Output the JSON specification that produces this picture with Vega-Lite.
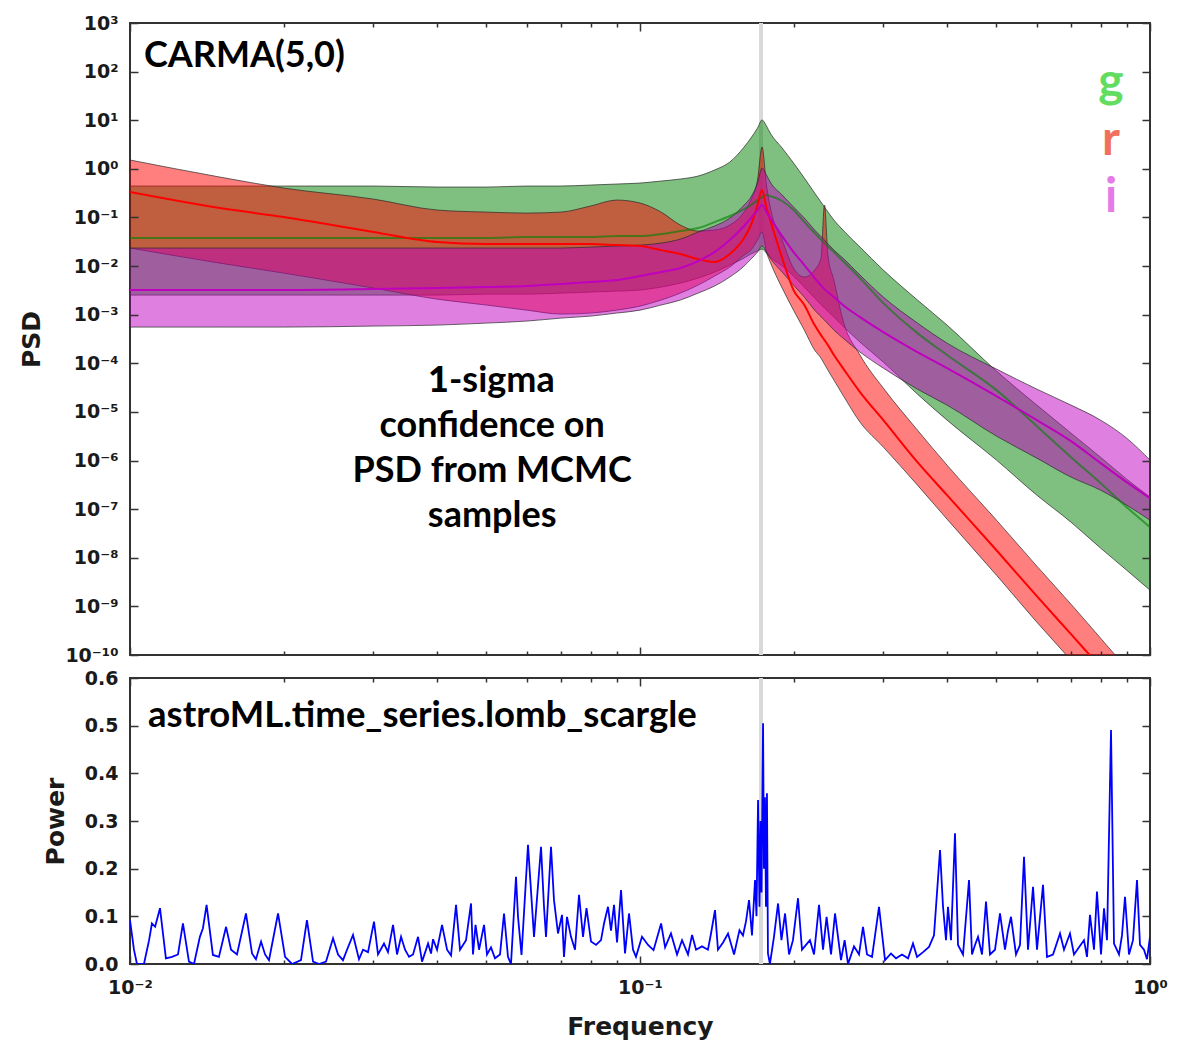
{
 "$schema": "https://vega.github.io/schema/vega-lite/v6.json",
 "background": "white",
 "padding": {"left": 18, "top": 13, "right": 8, "bottom": 0},
 "bounds": "flush",
 "spacing": 23,
 "datasets": {
  "vline": [{"f": 0.1727}],
  "notesTop": [
   {"id": "carma", "f": 0.01065, "v": 124, "label": "CARMA(5,0)"},
   {"id": "one", "f": 0.0422, "v": 2.55e-5, "label": "1"},
   {"id": "sigma", "f": 0.0422, "v": 2.55e-5, "label": "-sigma"},
   {"id": "conf", "f": 0.0513, "v": 3.03e-6, "label": "confidence on\nPSD from MCMC\nsamples"},
   {"id": "band", "f": 0.8385, "v": 30.0, "label": "g"},
   {"id": "band", "f": 0.8385, "v": 1.92, "label": "r"},
   {"id": "band", "f": 0.8385, "v": 0.129, "label": "i"}
  ],
  "notesBottom": [{"f": 0.01085, "p": 0.497, "label": "astroML.time_series.lomb_scargle"}],
  "psd": [
   {"band":"g","f":0.01,"lo":0.00253,"med":0.0377,"hi":0.443},
   {"band":"g","f":0.015,"lo":0.00253,"med":0.0377,"hi":0.443},
   {"band":"g","f":0.02,"lo":0.00253,"med":0.0377,"hi":0.443},
   {"band":"g","f":0.03,"lo":0.00253,"med":0.0377,"hi":0.443},
   {"band":"g","f":0.04,"lo":0.00253,"med":0.0377,"hi":0.422},
   {"band":"g","f":0.05,"lo":0.00265,"med":0.0377,"hi":0.422},
   {"band":"g","f":0.06,"lo":0.00265,"med":0.0395,"hi":0.443},
   {"band":"g","f":0.07,"lo":0.00278,"med":0.0395,"hi":0.443},
   {"band":"g","f":0.08,"lo":0.00292,"med":0.0395,"hi":0.464},
   {"band":"g","f":0.09,"lo":0.00306,"med":0.0414,"hi":0.487},
   {"band":"g","f":0.1,"lo":0.00321,"med":0.0414,"hi":0.51},
   {"band":"g","f":0.11,"lo":0.0037,"med":0.0456,"hi":0.561},
   {"band":"g","f":0.12,"lo":0.00447,"med":0.0525,"hi":0.617},
   {"band":"g","f":0.13,"lo":0.00566,"med":0.0605,"hi":0.711},
   {"band":"g","f":0.14,"lo":0.00752,"med":0.0804,"hi":0.945},
   {"band":"g","f":0.15,"lo":0.0105,"med":0.107,"hi":1.38},
   {"band":"g","f":0.16,"lo":0.0146,"med":0.149,"hi":2.81},
   {"band":"g","f":0.165,"lo":0.0177,"med":0.18,"hi":4.3},
   {"band":"g","f":0.17,"lo":0.0204,"med":0.228,"hi":6.91},
   {"band":"g","f":0.1735,"lo":0.0224,"med":0.263,"hi":10.1},
   {"band":"g","f":0.177,"lo":0.0185,"med":0.289,"hi":7.6},
   {"band":"g","f":0.18,"lo":0.0153,"med":0.276,"hi":5.46},
   {"band":"g","f":0.19,"lo":0.01,"med":0.218,"hi":2.68},
   {"band":"g","f":0.2,"lo":0.00623,"med":0.142,"hi":1.32},
   {"band":"g","f":0.21,"lo":0.0037,"med":0.0804,"hi":0.647},
   {"band":"g","f":0.22,"lo":0.0022,"med":0.0478,"hi":0.318},
   {"band":"g","f":0.23,"lo":0.00137,"med":0.0297,"hi":0.164},
   {"band":"g","f":0.24,"lo":0.000893,"med":0.0194,"hi":0.0884},
   {"band":"g","f":0.25,"lo":0.000583,"med":0.0127,"hi":0.0551},
   {"band":"g","f":0.27,"lo":0.000273,"med":0.00566,"hi":0.0246},
   {"band":"g","f":0.3,"lo":0.000106,"med":0.00173,"hi":0.00827},
   {"band":"g","f":0.35,"lo":2.32e-5,"med":0.000418,"hi":0.002},
   {"band":"g","f":0.4,"lo":6.78e-6,"med":0.000148,"hi":0.000611},
   {"band":"g","f":0.5,"lo":1.02e-6,"med":2.81e-5,"hi":6.91e-5},
   {"band":"g","f":0.6,"lo":1.94e-7,"med":5.1e-6,"hi":1.38e-5},
   {"band":"g","f":0.7,"lo":5.4e-8,"med":1.17e-6,"hi":3.66e-6},
   {"band":"g","f":0.8,"lo":1.58e-8,"med":3.43e-7,"hi":1.17e-6},
   {"band":"g","f":0.9,"lo":5.56e-9,"med":1.1e-7,"hi":4.14e-7},
   {"band":"g","f":1.0,"lo":2.16e-9,"med":4.26e-8,"hi":1.77e-7},
   {"band":"r","f":0.01,"lo":0.0235,"med":0.333,"hi":1.52},
   {"band":"r","f":0.015,"lo":0.0115,"med":0.156,"hi":0.678},
   {"band":"r","f":0.02,"lo":0.00718,"med":0.102,"hi":0.403},
   {"band":"r","f":0.03,"lo":0.00353,"med":0.0501,"hi":0.239},
   {"band":"r","f":0.04,"lo":0.00209,"med":0.0312,"hi":0.142},
   {"band":"r","f":0.05,"lo":0.00158,"med":0.0284,"hi":0.129},
   {"band":"r","f":0.06,"lo":0.00124,"med":0.0284,"hi":0.123},
   {"band":"r","f":0.07,"lo":0.00103,"med":0.0284,"hi":0.129},
   {"band":"r","f":0.08,"lo":0.00108,"med":0.0284,"hi":0.172},
   {"band":"r","f":0.09,"lo":0.00124,"med":0.027,"hi":0.228},
   {"band":"r","f":0.1,"lo":0.0015,"med":0.0258,"hi":0.198},
   {"band":"r","f":0.11,"lo":0.002,"med":0.0213,"hi":0.129},
   {"band":"r","f":0.12,"lo":0.00278,"med":0.0177,"hi":0.0698},
   {"band":"r","f":0.13,"lo":0.00406,"med":0.0139,"hi":0.0525},
   {"band":"r","f":0.14,"lo":0.00623,"med":0.0121,"hi":0.0551},
   {"band":"r","f":0.15,"lo":0.00954,"med":0.0177,"hi":0.0698},
   {"band":"r","f":0.16,"lo":0.0168,"med":0.0377,"hi":0.129},
   {"band":"r","f":0.165,"lo":0.0213,"med":0.0698,"hi":0.228},
   {"band":"r","f":0.17,"lo":0.0343,"med":0.18,"hi":0.588},
   {"band":"r","f":0.1735,"lo":0.0501,"med":0.366,"hi":2.81},
   {"band":"r","f":0.177,"lo":0.0194,"med":0.156,"hi":0.464},
   {"band":"r","f":0.18,"lo":0.0121,"med":0.0884,"hi":0.164},
   {"band":"r","f":0.19,"lo":0.00353,"med":0.0146,"hi":0.0343},
   {"band":"r","f":0.2,"lo":0.00124,"med":0.00321,"hi":0.0091},
   {"band":"r","f":0.21,"lo":0.000482,"med":0.00158,"hi":0.00594},
   {"band":"r","f":0.22,"lo":0.000187,"med":0.000611,"hi":0.00827},
   {"band":"r","f":0.2264,"lo":0.000128,"med":0.00038,"hi":0.0146},
   {"band":"r","f":0.23,"lo":9.63e-5,"med":0.0003,"hi":0.18},
   {"band":"r","f":0.2336,"lo":7.25e-5,"med":0.000237,"hi":0.0168},
   {"band":"r","f":0.24,"lo":4.51e-5,"med":0.000148,"hi":0.00515},
   {"band":"r","f":0.25,"lo":2.22e-5,"med":7.96e-5,"hi":0.000774},
   {"band":"r","f":0.27,"lo":6.17e-6,"med":2.56e-5,"hi":0.000148},
   {"band":"r","f":0.3,"lo":1.89e-6,"med":6.78e-6,"hi":3.09e-5},
   {"band":"r","f":0.35,"lo":3.12e-7,"med":9.27e-7,"hi":4.22e-6},
   {"band":"r","f":0.4,"lo":6.23e-8,"med":1.94e-7,"hi":8.04e-7},
   {"band":"r","f":0.5,"lo":4.39e-9,"med":1.43e-8,"hi":5.94e-8},
   {"band":"r","f":0.6,"lo":4.73e-10,"med":1.62e-9,"hi":6.72e-9},
   {"band":"r","f":0.7,"lo":7.82e-11,"med":2.68e-10,"hi":1.11e-9},
   {"band":"r","f":0.8,"lo":1.56e-11,"med":5.61e-11,"hi":2.22e-10},
   {"band":"r","f":0.9,"lo":3.77e-12,"med":1.42e-11,"hi":5.35e-11},
   {"band":"r","f":1.0,"lo":1.1e-12,"med":4.14e-12,"hi":1.56e-11},
   {"band":"i","f":0.01,"lo":0.000556,"med":0.00321,"hi":0.0235},
   {"band":"i","f":0.015,"lo":0.000556,"med":0.00321,"hi":0.0235},
   {"band":"i","f":0.02,"lo":0.000556,"med":0.00321,"hi":0.0235},
   {"band":"i","f":0.03,"lo":0.000583,"med":0.00336,"hi":0.0235},
   {"band":"i","f":0.04,"lo":0.000611,"med":0.00353,"hi":0.0235},
   {"band":"i","f":0.05,"lo":0.000672,"med":0.0037,"hi":0.0235},
   {"band":"i","f":0.06,"lo":0.000739,"med":0.00388,"hi":0.0235},
   {"band":"i","f":0.07,"lo":0.000851,"med":0.00426,"hi":0.0235},
   {"band":"i","f":0.08,"lo":0.000936,"med":0.00469,"hi":0.0246},
   {"band":"i","f":0.09,"lo":0.00108,"med":0.00515,"hi":0.0258},
   {"band":"i","f":0.1,"lo":0.00124,"med":0.00623,"hi":0.027},
   {"band":"i","f":0.11,"lo":0.00158,"med":0.00752,"hi":0.0297},
   {"band":"i","f":0.12,"lo":0.002,"med":0.0091,"hi":0.0359},
   {"band":"i","f":0.13,"lo":0.00278,"med":0.0127,"hi":0.0501},
   {"band":"i","f":0.14,"lo":0.00388,"med":0.0194,"hi":0.0666},
   {"band":"i","f":0.15,"lo":0.00594,"med":0.0343,"hi":0.0972},
   {"band":"i","f":0.16,"lo":0.01,"med":0.0666,"hi":0.18},
   {"band":"i","f":0.165,"lo":0.0139,"med":0.0972,"hi":0.263},
   {"band":"i","f":0.17,"lo":0.0194,"med":0.142,"hi":0.51},
   {"band":"i","f":0.1735,"lo":0.0258,"med":0.18,"hi":1.04},
   {"band":"i","f":0.177,"lo":0.0194,"med":0.129,"hi":0.746},
   {"band":"i","f":0.18,"lo":0.0146,"med":0.0972,"hi":0.535},
   {"band":"i","f":0.19,"lo":0.00752,"med":0.0414,"hi":0.289},
   {"band":"i","f":0.2,"lo":0.00406,"med":0.0194,"hi":0.164},
   {"band":"i","f":0.21,"lo":0.0023,"med":0.0105,"hi":0.0972},
   {"band":"i","f":0.22,"lo":0.00124,"med":0.00566,"hi":0.0551},
   {"band":"i","f":0.23,"lo":0.000774,"med":0.00336,"hi":0.0343},
   {"band":"i","f":0.24,"lo":0.000482,"med":0.0023,"hi":0.0213},
   {"band":"i","f":0.25,"lo":0.00033,"med":0.00158,"hi":0.0146},
   {"band":"i","f":0.27,"lo":0.00017,"med":0.000893,"hi":0.00653},
   {"band":"i","f":0.3,"lo":7.96e-5,"med":0.000439,"hi":0.0023},
   {"band":"i","f":0.35,"lo":2.94e-5,"med":0.00017,"hi":0.000672},
   {"band":"i","f":0.4,"lo":1.38e-5,"med":7.96e-5,"hi":0.00026},
   {"band":"i","f":0.5,"lo":3.18e-6,"med":2.11e-5,"hi":7.6e-5},
   {"band":"i","f":0.6,"lo":1.12e-6,"med":6.78e-6,"hi":2.94e-5},
   {"band":"i","f":0.7,"lo":4.56e-7,"med":2.51e-6,"hi":1.38e-5},
   {"band":"i","f":0.8,"lo":2.46e-7,"med":8.84e-7,"hi":6.78e-6},
   {"band":"i","f":0.9,"lo":1.21e-7,"med":3.59e-7,"hi":2.89e-6},
   {"band":"i","f":1.0,"lo":5.94e-8,"med":1.68e-7,"hi":1.02e-6}
  ],
  "ls": [
   {"f":0.01,"p":0.092},{"f":0.01018,"p":0.03},{"f":0.01032,"p":0},{"f":0.01065,"p":0},{"f":0.0109,"p":0.05},{"f":0.01104,"p":0.085},{"f":0.0112,"p":0.078},{"f":0.01145,"p":0.117},{"f":0.01176,"p":0.012},{"f":0.01209,"p":0.015},{"f":0.01242,"p":0.02},{"f":0.0127,"p":0.085},{"f":0.01305,"p":0.005},{"f":0.01335,"p":0},{"f":0.01371,"p":0.057},{"f":0.0139,"p":0.075},{"f":0.01413,"p":0.124},{"f":0.01454,"p":0.019},{"f":0.01494,"p":0.015},{"f":0.01543,"p":0.078},{"f":0.01578,"p":0.03},{"f":0.01621,"p":0.02},{"f":0.01688,"p":0.106},{"f":0.01735,"p":0.022},{"f":0.01766,"p":0.01},{"f":0.01807,"p":0.047},{"f":0.0184,"p":0.02},{"f":0.01873,"p":0.008},{"f":0.01951,"p":0.106},{"f":0.02014,"p":0.015},{"f":0.02078,"p":0},{"f":0.02164,"p":0.008},{"f":0.02223,"p":0.092},{"f":0.02285,"p":0.005},{"f":0.02348,"p":0},{"f":0.02423,"p":0.005},{"f":0.02501,"p":0.054},{"f":0.02558,"p":0.02},{"f":0.02616,"p":0.008},{"f":0.02664,"p":0.03},{"f":0.02737,"p":0.061},{"f":0.02812,"p":0.01},{"f":0.02864,"p":0.03},{"f":0.02929,"p":0.025},{"f":0.03009,"p":0.089},{"f":0.03064,"p":0.02},{"f":0.03148,"p":0.043},{"f":0.03205,"p":0.025},{"f":0.03279,"p":0.082},{"f":0.03339,"p":0.02},{"f":0.034,"p":0.057},{"f":0.03462,"p":0.03},{"f":0.03525,"p":0.015},{"f":0.03589,"p":0.02},{"f":0.03671,"p":0.057},{"f":0.03738,"p":0.005},{"f":0.03841,"p":0.043},{"f":0.03893,"p":0.022},{"f":0.03928,"p":0.052},{"f":0.04,"p":0.03},{"f":0.04091,"p":0.082},{"f":0.04185,"p":0.03},{"f":0.04261,"p":0.018},{"f":0.04358,"p":0.124},{"f":0.04437,"p":0.03},{"f":0.04559,"p":0.05},{"f":0.04663,"p":0.127},{"f":0.04705,"p":0.02},{"f":0.04759,"p":0.082},{"f":0.04835,"p":0.03},{"f":0.04945,"p":0.082},{"f":0.05012,"p":0.02},{"f":0.05103,"p":0.035},{"f":0.05196,"p":0.012},{"f":0.05315,"p":0.02},{"f":0.05412,"p":0.106},{"f":0.0551,"p":0.015},{"f":0.05585,"p":0},{"f":0.05713,"p":0.183},{"f":0.05765,"p":0.099},{"f":0.05857,"p":0.019},{"f":0.06031,"p":0.25},{"f":0.06197,"p":0.057},{"f":0.06396,"p":0.246},{"f":0.06483,"p":0.12},{"f":0.06542,"p":0.057},{"f":0.06691,"p":0.246},{"f":0.06782,"p":0.134},{"f":0.06906,"p":0.064},{"f":0.07032,"p":0.103},{"f":0.07095,"p":0.015},{"f":0.07192,"p":0.099},{"f":0.07323,"p":0.057},{"f":0.07457,"p":0.03},{"f":0.07593,"p":0.145},{"f":0.07731,"p":0.057},{"f":0.07854,"p":0.117},{"f":0.08016,"p":0.047},{"f":0.08199,"p":0.04},{"f":0.08386,"p":0.05},{"f":0.085,"p":0.085},{"f":0.08655,"p":0.12},{"f":0.08773,"p":0.07},{"f":0.08893,"p":0.124},{"f":0.09015,"p":0.045},{"f":0.09179,"p":0.155},{"f":0.09346,"p":0.022},{"f":0.09516,"p":0.106},{"f":0.0969,"p":0.03},{"f":0.09821,"p":0.015},{"f":0.1009,"p":0.057},{"f":0.1037,"p":0.04},{"f":0.1063,"p":0.029},{"f":0.11,"p":0.085},{"f":0.112,"p":0.035},{"f":0.115,"p":0.064},{"f":0.1182,"p":0.02},{"f":0.1209,"p":0.05},{"f":0.1242,"p":0.02},{"f":0.1265,"p":0.061},{"f":0.1288,"p":0.03},{"f":0.1323,"p":0.037},{"f":0.1359,"p":0.03},{"f":0.1378,"p":0.064},{"f":0.1403,"p":0.113},{"f":0.1422,"p":0.03},{"f":0.1455,"p":0.045},{"f":0.1488,"p":0.064},{"f":0.1529,"p":0.02},{"f":0.1567,"p":0.071},{"f":0.1592,"p":0.06},{"f":0.1614,"p":0.09},{"f":0.1636,"p":0.134},{"f":0.1658,"p":0.06},{"f":0.1681,"p":0.176},{"f":0.1692,"p":0.1},{"f":0.1704,"p":0.344},{"f":0.1715,"p":0.12},{"f":0.1723,"p":0.3},{"f":0.1731,"p":0.15},{"f":0.1743,"p":0.505},{"f":0.175,"p":0.2},{"f":0.1758,"p":0.35},{"f":0.1766,"p":0.12},{"f":0.1774,"p":0.358},{"f":0.1782,"p":0.022},{"f":0.1798,"p":0},{"f":0.1831,"p":0.057},{"f":0.1865,"p":0.127},{"f":0.1894,"p":0.05},{"f":0.1925,"p":0.106},{"f":0.196,"p":0.02},{"f":0.1995,"p":0.05},{"f":0.2041,"p":0.138},{"f":0.2078,"p":0.03},{"f":0.2116,"p":0.04},{"f":0.2154,"p":0.05},{"f":0.2194,"p":0.02},{"f":0.2244,"p":0.124},{"f":0.2285,"p":0.03},{"f":0.2322,"p":0.099},{"f":0.2369,"p":0.02},{"f":0.2412,"p":0.106},{"f":0.2478,"p":0.008},{"f":0.2519,"p":0.05},{"f":0.2558,"p":0},{"f":0.2628,"p":0.037},{"f":0.2688,"p":0.02},{"f":0.2737,"p":0.078},{"f":0.2787,"p":0.02},{"f":0.2851,"p":0.015},{"f":0.2942,"p":0.12},{"f":0.3023,"p":0.008},{"f":0.3106,"p":0.022},{"f":0.3177,"p":0.012},{"f":0.3264,"p":0.02},{"f":0.3354,"p":0.012},{"f":0.343,"p":0.043},{"f":0.3493,"p":0.015},{"f":0.3589,"p":0.025},{"f":0.3687,"p":0.036},{"f":0.3771,"p":0.06},{"f":0.3875,"p":0.239},{"f":0.3928,"p":0.12},{"f":0.3981,"p":0.05},{"f":0.4017,"p":0.12},{"f":0.4072,"p":0.05},{"f":0.4146,"p":0.274},{"f":0.4203,"p":0.04},{"f":0.4299,"p":0.02},{"f":0.4417,"p":0.176},{"f":0.4477,"p":0.02},{"f":0.4538,"p":0.04},{"f":0.46,"p":0.057},{"f":0.4684,"p":0.02},{"f":0.4769,"p":0.131},{"f":0.4856,"p":0.02},{"f":0.4967,"p":0.03},{"f":0.508,"p":0.106},{"f":0.5196,"p":0.03},{"f":0.5267,"p":0.07},{"f":0.5339,"p":0.099},{"f":0.5461,"p":0.02},{"f":0.556,"p":0.04},{"f":0.5662,"p":0.225},{"f":0.5765,"p":0.03},{"f":0.5897,"p":0.162},{"f":0.6004,"p":0.03},{"f":0.6169,"p":0.166},{"f":0.6281,"p":0.015},{"f":0.6454,"p":0.02},{"f":0.6661,"p":0.064},{"f":0.6782,"p":0.03},{"f":0.6968,"p":0.064},{"f":0.7095,"p":0.02},{"f":0.7257,"p":0.035},{"f":0.7423,"p":0.05},{"f":0.7524,"p":0.015},{"f":0.7626,"p":0.103},{"f":0.7766,"p":0.03},{"f":0.7871,"p":0.152},{"f":0.8016,"p":0.02},{"f":0.8125,"p":0.117},{"f":0.8236,"p":0.05},{"f":0.8386,"p":0.491},{"f":0.85,"p":0.043},{"f":0.8694,"p":0.02},{"f":0.8812,"p":0.06},{"f":0.8933,"p":0.141},{"f":0.9095,"p":0.02},{"f":0.9261,"p":0.05},{"f":0.943,"p":0.176},{"f":0.9558,"p":0.04},{"f":0.9732,"p":0.03},{"f":0.9866,"p":0.01},{"f":1.0,"p":0.057}
  ]
 },
 "vconcat": [
  {
   "width": 1020,
   "height": 632,
   "resolve": {"axis": {"x": "independent", "y": "independent"}},
   "layer": [
    {
     "data": {"name": "vline"},
     "mark": {"type": "rule", "color": "#d9d9d9", "strokeWidth": 4},
     "encoding": {
      "x": {"field": "f", "type": "quantitative", "scale": {"type": "log", "domain": [0.01, 1], "nice": false},
            "axis": {"orient": "bottom", "offset": -8, "tickSize": 8, "values": [0.01, 0.1, 1], "labels": false, "title": null, "zindex": 1}}
     }
    },
    {
     "data": {"name": "psd"},
     "transform": [{"filter": "datum.band === 'g'"}],
     "mark": {"type": "area", "color": "#008000", "fillOpacity": 0.5, "stroke": "#2a2a2a", "strokeWidth": 1, "strokeOpacity": 0.7, "interpolate": "monotone", "clip": true},
     "encoding": {
      "x": {"field": "f", "type": "quantitative", "scale": {"type": "log", "domain": [0.01, 1], "nice": false},
            "axis": {"orient": "bottom", "offset": -4, "tickSize": 4, "values": [0.02,0.03,0.04,0.05,0.06,0.07,0.08,0.09,0.2,0.3,0.4,0.5,0.6,0.7,0.8,0.9], "labels": false, "title": null, "zindex": 1}},
      "y": {"field": "lo", "type": "quantitative", "scale": {"type": "log", "domain": [1e-10, 1000], "nice": false},
            "axis": {"orient": "left", "values": [1000,100,10,1,0.1,0.01,0.001,0.0001,1e-5,1e-6,1e-7,1e-8,1e-9,1e-10], "ticks": false, "labelPadding": 12, "labelOverlap": false, "labelFlush": false,
                     "labelExpr": "'10' + (round(log(datum.value)/LN10) < 0 ? '⁻' : '') + (abs(round(log(datum.value)/LN10)) == 10 ? '¹⁰' : ['⁰','¹','²','³','⁴','⁵','⁶','⁷','⁸','⁹'][abs(round(log(datum.value)/LN10))])",
                     "title": "PSD", "titleX": -91, "titleY": 316, "titleAngle": 270, "titleBaseline": "alphabetic", "titleAlign": "center"}},
      "y2": {"field": "hi"}
     }
    },
    {
     "data": {"name": "psd"},
     "transform": [{"filter": "datum.band === 'r'"}],
     "mark": {"type": "area", "color": "#ff0000", "fillOpacity": 0.5, "stroke": "#2a2a2a", "strokeWidth": 1, "strokeOpacity": 0.7, "interpolate": "monotone", "clip": true},
     "encoding": {
      "x": {"field": "f", "type": "quantitative", "scale": {"type": "log", "domain": [0.01, 1], "nice": false},
            "axis": {"orient": "top", "offset": -4, "tickSize": 4, "values": [0.02,0.03,0.04,0.05,0.06,0.07,0.08,0.09,0.2,0.3,0.4,0.5,0.6,0.7,0.8,0.9], "labels": false, "title": null, "zindex": 1}},
      "y": {"field": "lo", "type": "quantitative", "scale": {"type": "log", "domain": [1e-10, 1000], "nice": false},
            "axis": {"orient": "right", "offset": -8, "tickSize": 8, "values": [1000,100,10,1,0.1,0.01,0.001,0.0001,1e-5,1e-6,1e-7,1e-8,1e-9,1e-10], "labels": false, "title": null, "zindex": 1}},
      "y2": {"field": "hi"}
     }
    },
    {
     "data": {"name": "psd"},
     "transform": [{"filter": "datum.band === 'i'"}],
     "mark": {"type": "area", "color": "#bf00bf", "fillOpacity": 0.5, "stroke": "#2a2a2a", "strokeWidth": 1, "strokeOpacity": 0.7, "interpolate": "monotone", "clip": true},
     "encoding": {
      "x": {"field": "f", "type": "quantitative", "scale": {"type": "log", "domain": [0.01, 1], "nice": false}, "axis": null},
      "y": {"field": "lo", "type": "quantitative", "scale": {"type": "log", "domain": [1e-10, 1000], "nice": false}, "axis": null},
      "y2": {"field": "hi"}
     }
    },
    {
     "data": {"name": "psd"},
     "transform": [{"filter": "datum.band === 'g'"}],
     "mark": {"type": "line", "color": "#008000", "opacity": 0.6, "strokeWidth": 2, "interpolate": "monotone", "clip": true},
     "encoding": {
      "x": {"field": "f", "type": "quantitative", "scale": {"type": "log", "domain": [0.01, 1], "nice": false},
            "axis": {"orient": "top", "offset": -8, "tickSize": 8, "values": [0.01, 0.1, 1], "labels": false, "title": null, "zindex": 1}},
      "y": {"field": "med", "type": "quantitative", "scale": {"type": "log", "domain": [1e-10, 1000], "nice": false},
            "axis": {"orient": "left", "offset": -8, "tickSize": 8, "values": [1000,100,10,1,0.1,0.01,0.001,0.0001,1e-5,1e-6,1e-7,1e-8,1e-9,1e-10], "labels": false, "title": null, "zindex": 1}}
     }
    },
    {
     "data": {"name": "psd"},
     "transform": [{"filter": "datum.band === 'r'"}],
     "mark": {"type": "line", "color": "#ff0000", "strokeWidth": 2, "interpolate": "monotone", "clip": true},
     "encoding": {
      "x": {"field": "f", "type": "quantitative", "scale": {"type": "log", "domain": [0.01, 1], "nice": false}, "axis": null},
      "y": {"field": "med", "type": "quantitative", "scale": {"type": "log", "domain": [1e-10, 1000], "nice": false}, "axis": null}
     }
    },
    {
     "data": {"name": "psd"},
     "transform": [{"filter": "datum.band === 'i'"}],
     "mark": {"type": "line", "color": "#bf00bf", "strokeWidth": 2, "interpolate": "monotone", "clip": true},
     "encoding": {
      "x": {"field": "f", "type": "quantitative", "scale": {"type": "log", "domain": [0.01, 1], "nice": false}, "axis": null},
      "y": {"field": "med", "type": "quantitative", "scale": {"type": "log", "domain": [1e-10, 1000], "nice": false}, "axis": null}
     }
    },
    {
     "data": {"name": "notesTop"},
     "transform": [{"filter": "datum.id === 'carma' || datum.id === 'sigma'"}],
     "mark": {"type": "text", "font": "Lato", "fontWeight": "bold", "fontSize": 36, "align": "left", "baseline": "alphabetic", "color": "#000000"},
     "encoding": {
      "x": {"field": "f", "type": "quantitative", "scale": {"type": "log", "domain": [0.01, 1], "nice": false}, "axis": null},
      "y": {"field": "v", "type": "quantitative", "scale": {"type": "log", "domain": [1e-10, 1000], "nice": false}, "axis": null},
      "text": {"field": "label"}
     }
    },
    {
     "data": {"name": "notesTop"},
     "transform": [{"filter": "datum.id === 'one'"}],
     "mark": {"type": "text", "font": "Lato", "fontWeight": 900, "fontSize": 36, "align": "right", "baseline": "alphabetic", "color": "#000000"},
     "encoding": {
      "x": {"field": "f", "type": "quantitative", "scale": {"type": "log", "domain": [0.01, 1], "nice": false}, "axis": null},
      "y": {"field": "v", "type": "quantitative", "scale": {"type": "log", "domain": [1e-10, 1000], "nice": false}, "axis": null},
      "text": {"field": "label"}
     }
    },
    {
     "data": {"name": "notesTop"},
     "transform": [{"filter": "datum.id === 'conf'"}],
     "mark": {"type": "text", "font": "Lato", "fontWeight": "bold", "fontSize": 36, "align": "center", "baseline": "alphabetic", "lineBreak": "\n", "lineHeight": 45, "color": "#000000"},
     "encoding": {
      "x": {"field": "f", "type": "quantitative", "scale": {"type": "log", "domain": [0.01, 1], "nice": false}, "axis": null},
      "y": {"field": "v", "type": "quantitative", "scale": {"type": "log", "domain": [1e-10, 1000], "nice": false}, "axis": null},
      "text": {"field": "label"}
     }
    },
    {
     "data": {"name": "notesTop"},
     "transform": [{"filter": "datum.id === 'band'"}],
     "mark": {"type": "text", "font": "Lato", "fontWeight": "bold", "fontSize": 48, "align": "center", "baseline": "alphabetic"},
     "encoding": {
      "x": {"field": "f", "type": "quantitative", "scale": {"type": "log", "domain": [0.01, 1], "nice": false}, "axis": null},
      "y": {"field": "v", "type": "quantitative", "scale": {"type": "log", "domain": [1e-10, 1000], "nice": false}, "axis": null},
      "text": {"field": "label"},
      "color": {"field": "label", "type": "nominal", "scale": {"domain": ["g", "r", "i"], "range": ["#62dd62", "#f0705c", "#e67ae6"]}, "legend": null}
     }
    }
   ]
  },
  {
   "width": 1020,
   "height": 286,
   "resolve": {"axis": {"x": "independent", "y": "independent"}},
   "layer": [
    {
     "data": {"name": "vline"},
     "mark": {"type": "rule", "color": "#d9d9d9", "strokeWidth": 4},
     "encoding": {
      "x": {"field": "f", "type": "quantitative", "scale": {"type": "log", "domain": [0.01, 1], "nice": false},
            "axis": {"orient": "bottom", "offset": -8, "tickSize": 8, "values": [0.01, 0.1, 1], "labels": false, "title": null, "zindex": 1}}
     }
    },
    {
     "data": {"name": "ls"},
     "mark": {"type": "line", "color": "#0000ff", "strokeWidth": 1.8, "clip": true},
     "encoding": {
      "x": {"field": "f", "type": "quantitative", "scale": {"type": "log", "domain": [0.01, 1], "nice": false},
            "axis": {"orient": "bottom", "values": [0.01, 0.1, 1], "ticks": false, "labelPadding": 14, "labelFlush": false, "labelOverlap": false,
                     "labelExpr": "'10' + (round(log(datum.value)/LN10) < 0 ? '⁻' : '') + (abs(round(log(datum.value)/LN10)) == 10 ? '¹⁰' : ['⁰','¹','²','³','⁴','⁵','⁶','⁷','⁸','⁹'][abs(round(log(datum.value)/LN10))])",
                     "title": "Frequency", "titleX": 510, "titleY": 70, "titleBaseline": "alphabetic", "titleAlign": "center"}},
      "y": {"field": "p", "type": "quantitative", "scale": {"domain": [0, 0.6], "nice": false, "zero": true},
            "axis": {"orient": "left", "values": [0, 0.1, 0.2, 0.3, 0.4, 0.5, 0.6], "format": ".1f", "ticks": false, "labelPadding": 12, "labelOverlap": false, "labelFlush": false,
                     "title": "Power", "titleX": -67, "titleY": 143, "titleAngle": 270, "titleBaseline": "alphabetic", "titleAlign": "center"}}
     }
    },
    {
     "data": {"name": "notesBottom"},
     "mark": {"type": "text", "font": "Lato", "fontWeight": "bold", "fontSize": 36.5, "align": "left", "baseline": "alphabetic", "color": "#000000"},
     "encoding": {
      "x": {"field": "f", "type": "quantitative", "scale": {"type": "log", "domain": [0.01, 1], "nice": false},
            "axis": {"orient": "bottom", "offset": -4, "tickSize": 4, "values": [0.02,0.03,0.04,0.05,0.06,0.07,0.08,0.09,0.2,0.3,0.4,0.5,0.6,0.7,0.8,0.9], "labels": false, "title": null, "zindex": 1}},
      "y": {"field": "p", "type": "quantitative", "scale": {"domain": [0, 0.6], "nice": false, "zero": true},
            "axis": {"orient": "left", "offset": -8, "tickSize": 8, "values": [0, 0.1, 0.2, 0.3, 0.4, 0.5, 0.6], "labels": false, "title": null, "zindex": 1}},
      "text": {"field": "label"}
     }
    },
    {
     "data": {"name": "ls"},
     "mark": {"type": "point", "opacity": 0},
     "encoding": {
      "x": {"field": "f", "type": "quantitative", "scale": {"type": "log", "domain": [0.01, 1], "nice": false},
            "axis": {"orient": "top", "offset": -8, "tickSize": 8, "values": [0.01, 0.1, 1], "labels": false, "title": null, "zindex": 1}},
      "y": {"field": "p", "type": "quantitative", "scale": {"domain": [0, 0.6], "nice": false, "zero": true},
            "axis": {"orient": "right", "offset": -8, "tickSize": 8, "values": [0, 0.1, 0.2, 0.3, 0.4, 0.5, 0.6], "labels": false, "title": null, "zindex": 1}}
     }
    },
    {
     "data": {"name": "ls"},
     "mark": {"type": "point", "opacity": 0},
     "encoding": {
      "x": {"field": "f", "type": "quantitative", "scale": {"type": "log", "domain": [0.01, 1], "nice": false},
            "axis": {"orient": "top", "offset": -4, "tickSize": 4, "values": [0.02,0.03,0.04,0.05,0.06,0.07,0.08,0.09,0.2,0.3,0.4,0.5,0.6,0.7,0.8,0.9], "labels": false, "title": null, "zindex": 1}},
      "y": {"field": "p", "type": "quantitative", "scale": {"domain": [0, 0.6], "nice": false, "zero": true}, "axis": null}
     }
    }
   ]
  }
 ],
 "config": {
  "view": {"stroke": "#333333", "strokeWidth": 2},
  "axis": {"grid": false, "domain": false, "labelFont": "DejaVu Sans", "labelFontWeight": "bold", "labelFontSize": 19, "labelColor": "#1a1a1a",
           "titleFont": "DejaVu Sans", "titleFontWeight": "bold", "titleFontSize": 25, "titleColor": "#1a1a1a", "tickColor": "#333333", "tickWidth": 1.5}
 }
}
